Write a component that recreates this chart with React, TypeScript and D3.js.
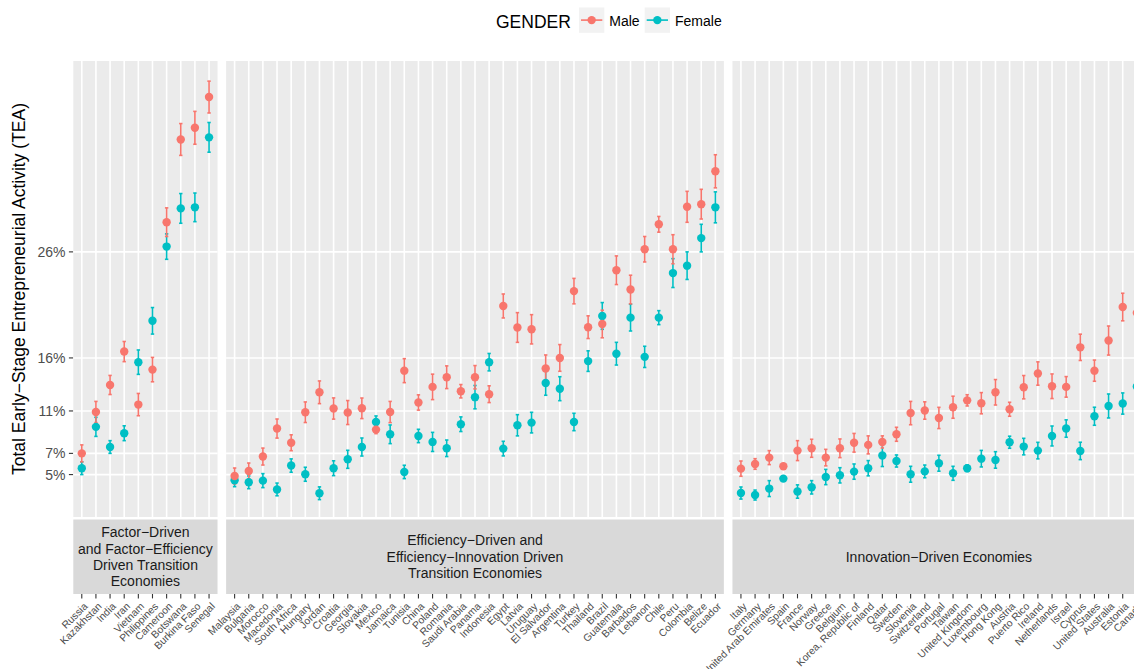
import * as d3 from 'd3';

// country groups (facet panels), left to right
const factorCountries = ['Russia', 'Kazakhstan', 'India', 'Iran', 'Vietnam', 'Philippines', 'Cameroon', 'Botswana', 'Burkina Faso', 'Senegal'];
const efficiencyCountries = ['Malaysia', 'Bulgaria', 'Morocco', 'Macedonia', 'South Africa', 'Hungary', 'Jordan', 'Croatia', 'Georgia', 'Slovakia', 'Mexico', 'Jamaica', 'Tunisia', 'China', 'Poland', 'Romania', 'Saudi Arabia', 'Panama', 'Indonesia', 'Egypt', 'Latvia', 'Uruguay', 'El Salvador', 'Argentina', 'Turkey', 'Thailand', 'Brazil', 'Guatemala', 'Barbados', 'Lebanon', 'Chile', 'Peru', 'Colombia', 'Belize', 'Ecuador'];
const innovationCountries = ['Italy', 'Germany', 'United Arab Emirates', 'Spain', 'France', 'Norway', 'Greece', 'Belgium', 'Korea, Republic of', 'Finland', 'Qatar', 'Sweden', 'Slovenia', 'Switzerland', 'Portugal', 'Taiwan', 'United Kingdom', 'Luxembourg', 'Hong Kong', 'Austria', 'Puerto Rico', 'Ireland', 'Netherlands', 'Israel', 'Cyprus', 'United States', 'Australia', 'Estonia', 'Canada'];

const stripLabels = [
  ['Factor\u2212Driven', 'and Factor\u2212Efficiency', 'Driven Transition', 'Economies'],
  ['Efficiency\u2212Driven and', 'Efficiency\u2212Innovation Driven', 'Transition Economies'],
  ['Innovation\u2212Driven Economies'],
];

// TEA (%) per country, same order as the groups above
const maleTEA = [
  7.0, 10.9, 13.45, 16.6, 11.6, 14.9, 28.8, 36.6, 37.7, 40.6,
  4.87, 5.34, 6.7, 9.34, 8.0, 10.88, 12.76, 11.23, 10.85, 11.25, 9.24, 10.9, 14.8, 11.8, 13.27, 14.18, 12.86, 14.18, 12.58, 20.9, 18.87, 18.7, 15.0, 16.0, 22.3, 18.9, 19.2, 24.27, 22.45, 26.25, 28.6, 26.25, 30.25, 30.5, 33.6,
  5.56, 6.0, 6.6, 5.78, 7.26, 7.48, 6.6, 7.48, 8.0, 7.8, 8.08, 8.8, 10.8, 11.04, 10.34, 11.35, 12.0, 11.73, 12.76, 11.16, 13.24, 14.53, 13.33, 13.27, 17.0, 14.8, 17.64, 20.8, 20.25,
];
const maleErr = [
  0.8, 1.0, 0.9, 0.95, 1.05, 1.15, 1.35, 1.5, 1.55, 1.5,
  0.75, 0.75, 0.8, 0.9, 0.75, 0.97, 1.07, 1.0, 1.13, 0.97, 0.38, 1.0, 1.13, 0.72, 1.2, 1.07, 0.63, 1.1, 0.79, 1.13, 1.4, 1.38, 1.28, 1.26, 1.2, 1.07, 1.3, 1.35, 1.35, 1.2, 0.74, 1.37, 1.46, 1.4, 1.56,
  0.72, 0.5, 0.66, 0.2, 0.94, 0.85, 0.78, 0.88, 0.88, 0.85, 0.57, 0.66, 1.1, 0.82, 1.0, 1.04, 0.53, 1.0, 1.2, 0.66, 1.1, 1.1, 1.16, 0.97, 1.24, 1.0, 1.37, 1.3, 1.2,
];
const femaleTEA = [
  5.6, 9.5, 7.6, 8.9, 15.6, 19.5, 26.5, 30.1, 30.2, 36.8,
  4.46, 4.27, 4.43, 3.6, 5.85, 5.03, 3.24, 5.6, 6.44, 7.6, 9.96, 8.8, 5.25, 8.64, 8.08, 7.48, 9.75, 12.3, 15.6, 7.45, 9.65, 9.9, 13.64, 13.1, 9.96, 15.7, 19.96, 16.4, 19.8, 16.1, 19.8, 24.0, 24.7, 27.3, 30.2,
  3.26, 3.07, 3.68, 4.62, 3.4, 3.8, 4.77, 4.93, 5.28, 5.6, 6.8, 6.28, 5.03, 5.3, 6.07, 5.12, 5.6, 6.5, 6.38, 8.05, 7.64, 7.26, 8.64, 9.34, 7.23, 10.5, 11.47, 11.7, 13.3,
];
const femaleErr = [
  0.6, 0.9, 0.6, 0.7, 1.15, 1.25, 1.2, 1.4, 1.35, 1.4,
  0.6, 0.6, 0.66, 0.6, 0.63, 0.66, 0.6, 0.7, 0.85, 0.85, 0.57, 0.88, 0.63, 0.63, 0.9, 0.78, 0.69, 1.1, 0.82, 0.69, 1.0, 0.97, 1.16, 1.13, 0.82, 0.97, 1.26, 1.07, 1.26, 1.0, 0.66, 1.36, 1.3, 1.3, 1.46,
  0.57, 0.47, 0.75, 0.2, 0.63, 0.63, 0.72, 0.72, 0.72, 0.72, 1.04, 0.57, 0.75, 0.6, 0.75, 0.66, 0.31, 0.78, 0.78, 0.57, 0.78, 0.78, 0.94, 0.82, 0.82, 0.85, 1.13, 1.0, 0.9,
];

const yTicks = [5, 7, 11, 16, 26];
const genders = ['Male', 'Female'];

const MALE = '#F8766D';
const FEMALE = '#00BFC4';
const FONT = '"Liberation Sans", Arial, Helvetica, sans-serif';

export default function App() {
  const width = 1134;
  const height = 669;
  const panelTop = 61;
  const panelBottom = 517;
  const stripTop = 519.5;
  const stripBottom = 594;
  const left = 73.3;
  const step = 14.14;
  const gap = 8.6;

  const y = d3.scaleLinear().domain([1.0, 44.0]).range([panelBottom, panelTop]);

  const groups = [factorCountries, efficiencyCountries, innovationCountries];
  let x0 = left;
  let offset = 0;
  const panels = groups.map((countries, gi) => {
    const w = (countries.length - 1 + 1.2) * step;
    const x = d3.scalePoint<string>().domain(countries).range([x0, x0 + w]).padding(0.6);
    const p = { countries, x, x0, w, offset, label: stripLabels[gi] };
    x0 += w + gap;
    offset += countries.length;
    return p;
  });

  const series = [
    { name: 'Female', color: FEMALE, val: femaleTEA, err: femaleErr },
    { name: 'Male', color: MALE, val: maleTEA, err: maleErr },
  ];

  return (
    <svg width={width} height={height} style={{ position: 'absolute', left: 0, top: 0, background: '#fff' }} fontFamily={FONT}>
      {/* legend */}
      <text x={496} y={27.7} fontSize={17.5} fill="#000">GENDER</text>
      {genders.map((g, i) => {
        const kx = i === 0 ? 579 : 644.7;
        const c = g === 'Male' ? MALE : FEMALE;
        return (
          <g key={g}>
            <rect x={kx} y={7.5} width={25.3} height={25.3} fill="#F2F2F2" />
            <line x1={kx + 2} x2={kx + 23.3} y1={20.1} y2={20.1} stroke={c} strokeWidth={1.6} />
            <circle cx={kx + 12.65} cy={20.1} r={4.2} fill={c} />
            <text x={kx + 30.3} y={26.3} fontSize={14} fill="#000">{g}</text>
          </g>
        );
      })}

      {/* y axis */}
      <text transform={`translate(24.5,${(panelTop + panelBottom) / 2}) rotate(-90)`} textAnchor="middle" fontSize={17.5} fill="#000">
        Total Early{'\u2212'}Stage Entrepreneurial Activity (TEA)
      </text>
      {yTicks.map((t) => (
        <g key={t}>
          <line x1={left - 4.4} x2={left} y1={y(t)} y2={y(t)} stroke="#333333" strokeWidth={1.1} />
          <text x={left - 7.8} y={y(t) + 5} textAnchor="end" fontSize={14} fill="#4D4D4D">{t}%</text>
        </g>
      ))}

      {panels.map((p, pi) => (
        <g key={pi}>
          <rect x={p.x0} y={panelTop} width={p.w} height={panelBottom - panelTop} fill="#EBEBEB" />
          {yTicks.map((t) => (
            <line key={t} x1={p.x0} x2={p.x0 + p.w} y1={y(t)} y2={y(t)} stroke="#fff" strokeWidth={1.6} />
          ))}
          {p.countries.map((c) => (
            <line key={c} x1={p.x(c)} x2={p.x(c)} y1={panelTop} y2={panelBottom} stroke="#fff" strokeWidth={1.6} />
          ))}

          {/* error bars */}
          {series.map((s) =>
            p.countries.map((c, i) => {
              const v = s.val[p.offset + i];
              const e = s.err[p.offset + i];
              const cx = p.x(c) as number;
              return (
                <g key={s.name + c} stroke={s.color} strokeWidth={1.6}>
                  <line x1={cx} x2={cx} y1={y(v + e)} y2={y(v - e)} />
                  <line x1={cx - 1.7} x2={cx + 1.7} y1={y(v + e)} y2={y(v + e)} />
                  <line x1={cx - 1.7} x2={cx + 1.7} y1={y(v - e)} y2={y(v - e)} />
                </g>
              );
            })
          )}
          {/* points */}
          {series.map((s) =>
            p.countries.map((c, i) => (
              <circle key={s.name + c} cx={p.x(c)} cy={y(s.val[p.offset + i])} r={4.2} fill={s.color} />
            ))
          )}

          {/* strip */}
          <rect x={p.x0} y={stripTop} width={p.w} height={stripBottom - stripTop} fill="#D9D9D9" />
          {p.label.map((line, li) => {
            const mid = (stripTop + stripBottom) / 2;
            const lh = 16.3;
            const cy = mid + (li - (p.label.length - 1) / 2) * lh;
            return (
              <text key={li} x={p.x0 + p.w / 2} y={cy + 5} textAnchor="middle" fontSize={14} fill="#1A1A1A">{line}</text>
            );
          })}

          {/* x axis */}
          {p.countries.map((c) => {
            const cx = p.x(c) as number;
            return (
              <g key={c}>
                <line x1={cx} x2={cx} y1={stripBottom} y2={stripBottom + 4.4} stroke="#333333" strokeWidth={1.1} />
                <text transform={`translate(${cx + 6.5},607) rotate(-45)`} textAnchor="end" fontSize={10.3} fill="#4D4D4D">{c}</text>
              </g>
            );
          })}
        </g>
      ))}
    </svg>
  );
}
